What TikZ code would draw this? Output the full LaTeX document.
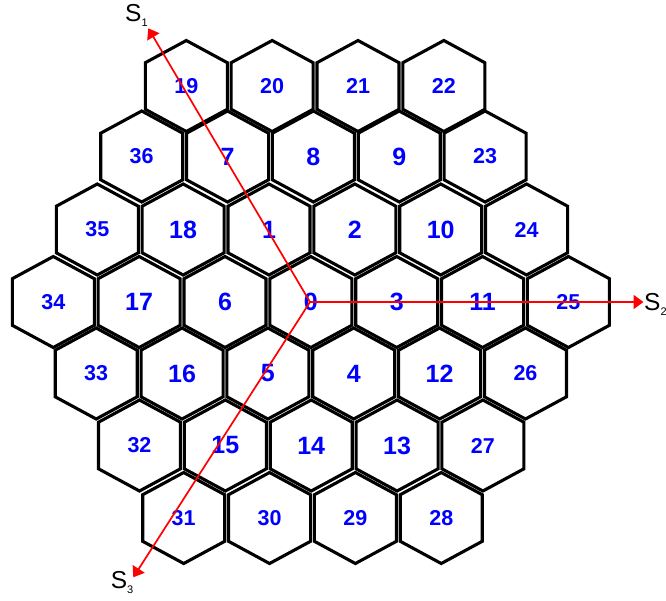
\documentclass[tikz,border=0pt]{standalone}
\usepackage{fontspec}
\setmainfont{Liberation Sans}
\usetikzlibrary{arrows.meta}
\newcommand\hexat[4]{%
  \draw[hexline] (#1,#2) ++(0,-45.5) -- ++(41,22.2) -- ++(0,46.6) -- ++(-41,22.2)
     -- ++(-41,-22.2) -- ++(0,-46.6) -- cycle;
  \node[numlab=#4] (h#3) at (#1,#2) {#3};
}
\newcommand\Ssub[1]{S\raisebox{-5pt}{\fontsize{11}{11}\selectfont #1}}
\begin{document}
\begin{tikzpicture}[x=1pt,y=-1pt,
  hexline/.style={line width=3.1pt, line join=miter, black},
  numlab/.style={text=blue, font=\bfseries\fontsize{#1}{#1}\selectfont, inner sep=0pt},
  axisline/.style={red, line width=1.7pt, -{Triangle[length=10pt,width=14pt]}},
  slab/.style={font=\fontsize{24.5}{24.5}\selectfont, inner sep=0pt, anchor=base west}
]
\useasboundingbox (0,0) rectangle (666,600);
% row 0
\hexat{186.3}{86}{19}{21.5}
\hexat{272.15}{86}{20}{21.5}
\hexat{358.0}{86}{21}{21.5}
\hexat{443.85}{86}{22}{21.5}
% row 1
\hexat{141.7}{156.5}{36}{21.5}
\hexat{227.55}{156.5}{7}{25}
\hexat{313.4}{156.5}{8}{25}
\hexat{399.25}{156.5}{9}{25}
\hexat{485.1}{156.5}{23}{21.5}
% row 2
\hexat{97.3}{229.5}{35}{21.5}
\hexat{183.15}{229.5}{18}{25}
\hexat{269.0}{229.5}{1}{25}
\hexat{354.85}{229.5}{2}{25}
\hexat{440.7}{229.5}{10}{25}
\hexat{526.55}{229.5}{24}{21.5}
% row 3
\hexat{53.3}{302}{34}{21.5}
\hexat{139.15}{302}{17}{25}
\hexat{225.0}{302}{6}{25}
\hexat{310.85}{302}{0}{25}
\hexat{396.7}{302}{3}{25}
\hexat{482.55}{302}{11}{25}
\hexat{568.4}{302}{25}{21.5}
% row 4
\hexat{96.2}{373.5}{33}{21.5}
\hexat{182.05}{373.5}{16}{25}
\hexat{267.9}{373.5}{5}{25}
\hexat{353.75}{373.5}{4}{25}
\hexat{439.6}{373.5}{12}{25}
\hexat{525.45}{373.5}{26}{21.5}
% row 5
\hexat{139.5}{445.5}{32}{21.5}
\hexat{225.35}{445.5}{15}{25}
\hexat{311.2}{445.5}{14}{25}
\hexat{397.05}{445.5}{13}{25}
\hexat{482.9}{445.5}{27}{21.5}
% row 6
\hexat{183.7}{518}{31}{21.5}
\hexat{269.55}{518}{30}{21.5}
\hexat{355.4}{518}{29}{21.5}
\hexat{441.25}{518}{28}{21.5}
% axes
\coordinate (O) at (310,302);
\coordinate (t1) at (148.3,28.3);
\coordinate (t2) at (643.5,302);
\coordinate (t3) at (133.3,577.3);
\draw[axisline] (O) -- (t1);
\draw[axisline] (O) -- (t2);
\draw[axisline] (O) -- (t3);
\node[slab] (s1) at (125,21.7) {\Ssub{1}};
\node[slab] (s2) at (644,310) {\Ssub{2}};
\node[slab] (s3) at (110.7,588.3) {\Ssub{3}};
\end{tikzpicture}
\end{document}
